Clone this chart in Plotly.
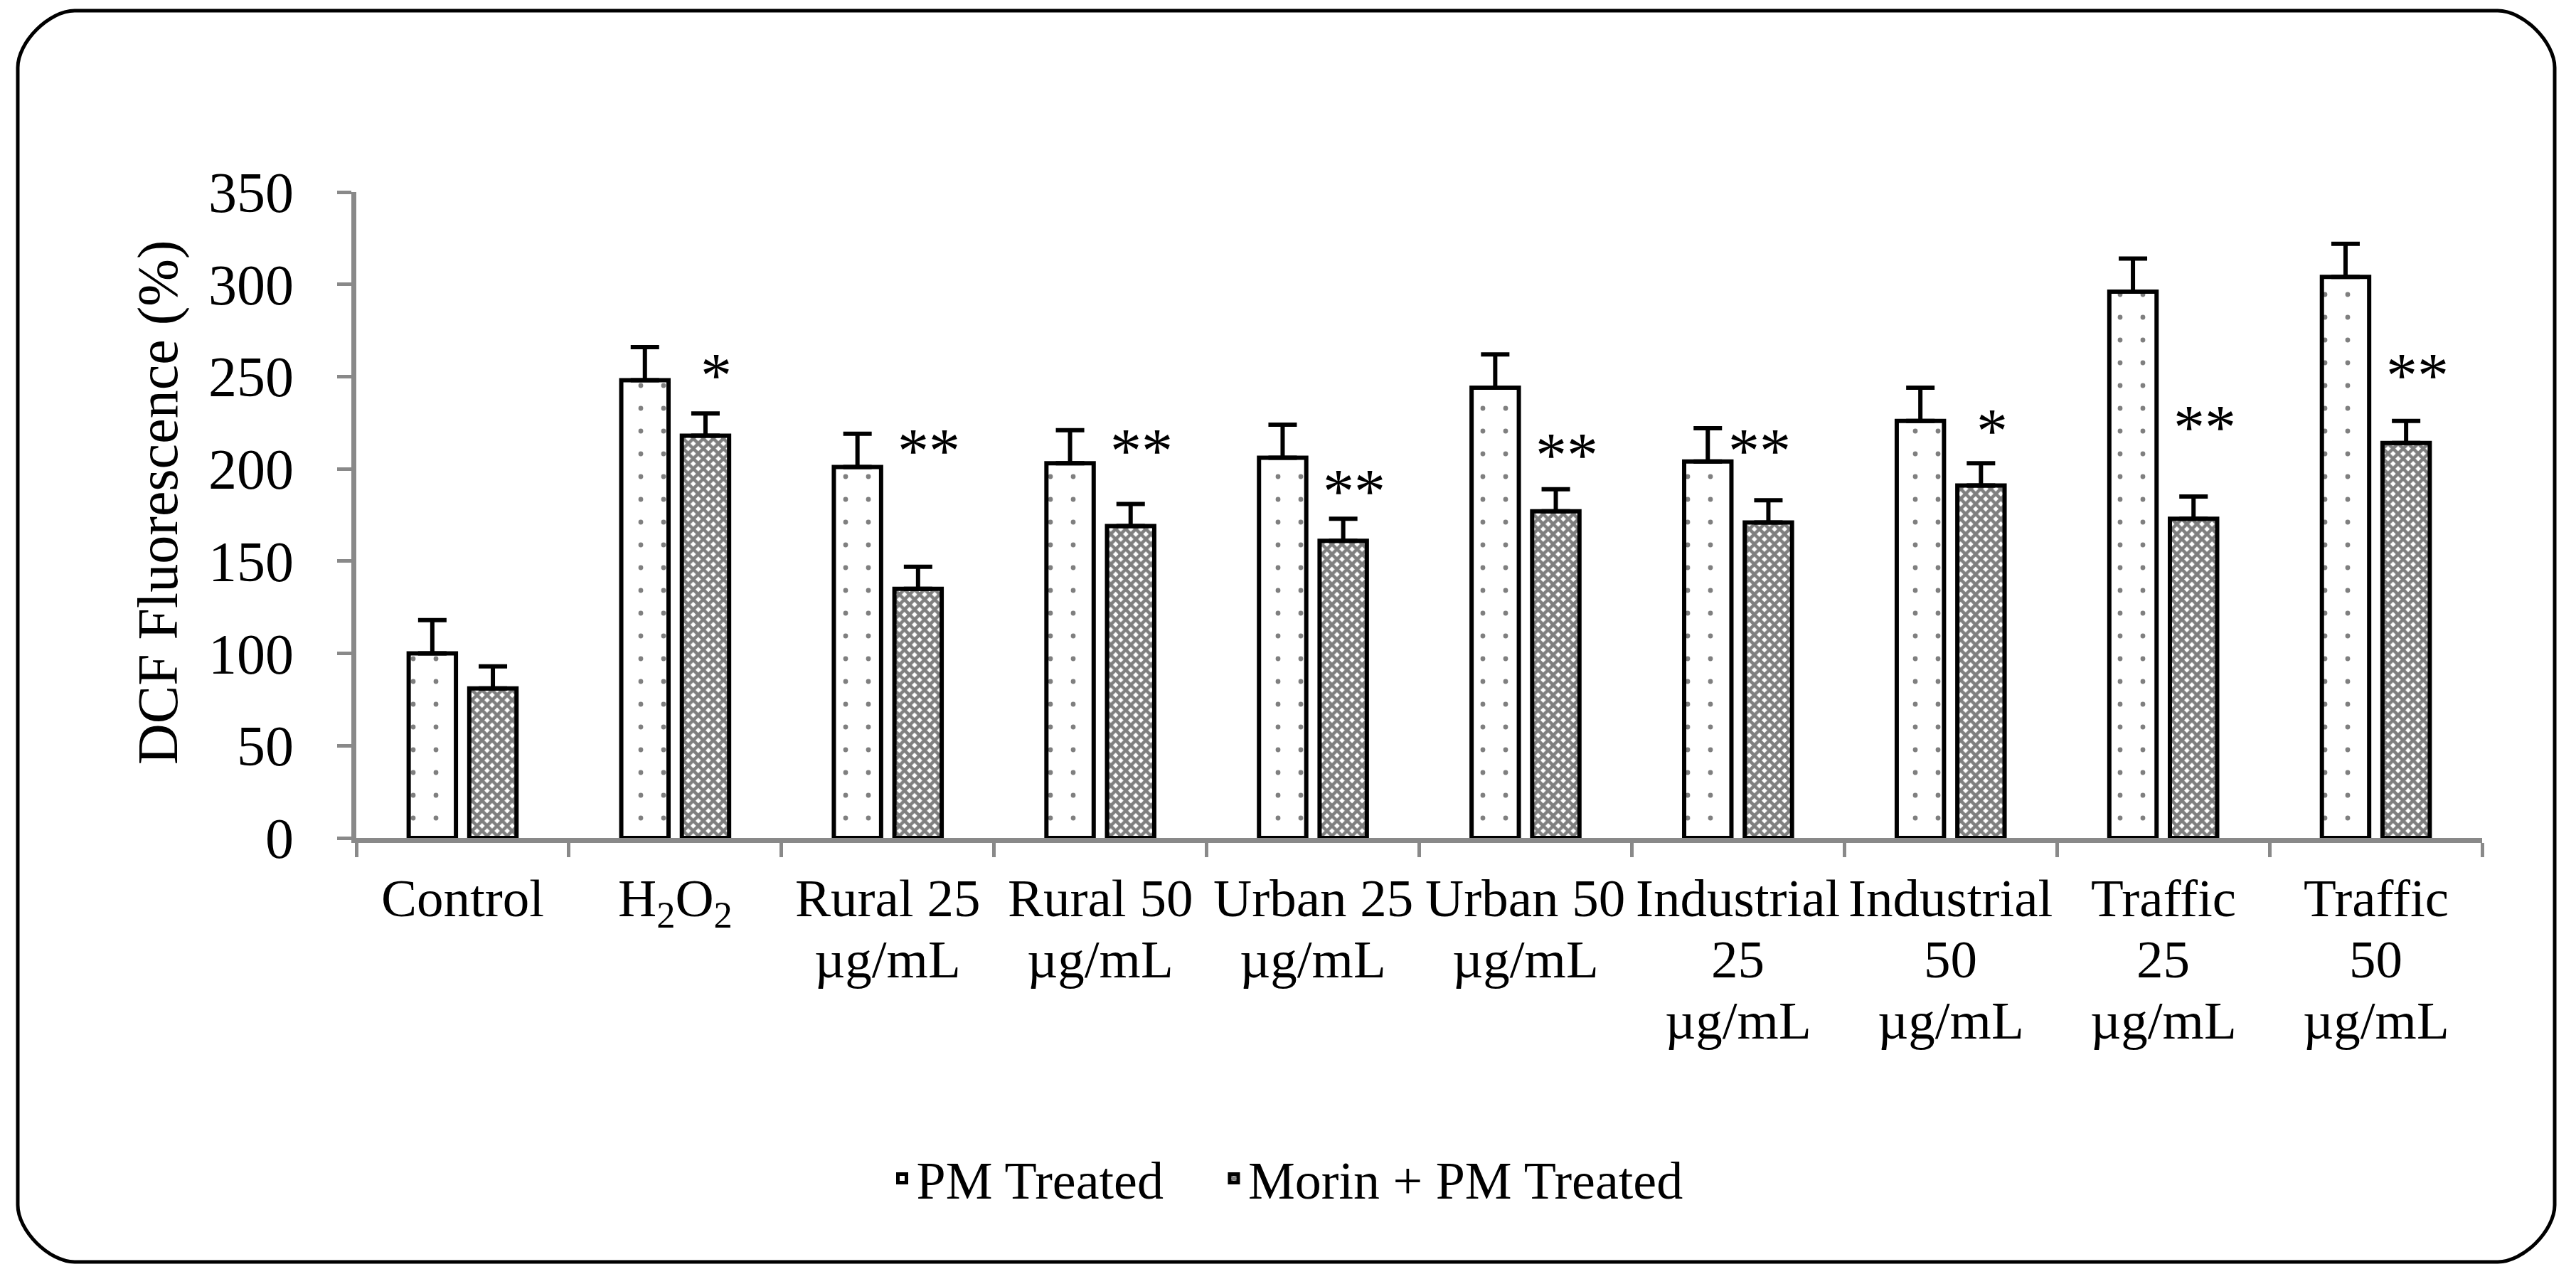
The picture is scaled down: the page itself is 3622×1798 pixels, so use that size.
#importing the necessary libraries
import plotly.graph_objects as go

# categories on the x axis (line breaks as in the original figure)
categories = [
    "Control",
    "H<sub>2</sub>O<sub>2</sub>",
    "Rural 25<br>µg/mL",
    "Rural 50<br>µg/mL",
    "Urban 25<br>µg/mL",
    "Urban 50<br>µg/mL",
    "Industrial<br>25<br>µg/mL",
    "Industrial<br>50<br>µg/mL",
    "Traffic<br>25<br>µg/mL",
    "Traffic<br>50<br>µg/mL",
]

# DCF fluorescence (%)
pm_treated = [100, 248, 201, 203, 206, 244, 204, 226, 296, 304]
pm_err = [18, 18, 18, 18, 18, 18, 18, 18, 18, 18]
morin_pm = [81, 218, 135, 169, 161, 177, 171, 191, 173, 214]
morin_err = [12, 12, 12, 12, 12, 12, 12, 12, 12, 12]

# significance marks and the height (in %) they are drawn at
stars = ["", "*", "**", "**", "**", "**", "**", "*", "**", "**"]
star_y = [None, 255, 214, 214, 192, 212, 214, 225, 227, 255]

# figure geometry (pixels)
W, H = 3622, 1798
L, R, T, B = 501, 132, 270, 620
PW, PH = W - L - R, H - T - B

def px_x(x):
    return (x - L) / PW

def px_y(y):
    return (H - B - y) / PH

FONT = "Liberation Serif"
AXIS_GREY = "#898989"

fig = go.Figure()

fig.add_trace(go.Bar(
    x=categories, y=pm_treated, name="PM Treated\u00a0\u00a0\u00a0\u00a0",
    marker=dict(color="white", line=dict(color="black", width=6),
                pattern=dict(shape=".", size=32, solidity=0.035,
                             fgcolor="black", bgcolor="white")),
    error_y=dict(type="data", array=pm_err, arrayminus=[0] * len(pm_err),
                 symmetric=False, color="black", thickness=6, width=20),
))
fig.add_trace(go.Bar(
    x=categories, y=morin_pm, name="Morin + PM Treated",
    marker=dict(color="white", line=dict(color="black", width=6),
                pattern=dict(shape="x", size=10, solidity=0.7,
                             fgcolor="black", bgcolor="white")),
    error_y=dict(type="data", array=morin_err, arrayminus=[0] * len(morin_err),
                 symmetric=False, color="black", thickness=6, width=20),
))

annotations = []

# category labels, one annotation per line to get the tight line spacing
for cat in categories:
    for i, line in enumerate(cat.split("<br>")):
        top = 1287 + 86 * i - 68
        annotations.append(dict(
            x=cat, xref="x", y=px_y(top), yref="paper",
            text=line, showarrow=False, xanchor="center", yanchor="top",
            font=dict(family=FONT, size=75, color="black"),
        ))

# significance stars over the Morin bars
star_dx = {6: 30}
for i, (s, sy) in enumerate(zip(stars, star_y)):
    if not s:
        continue
    annotations.append(dict(
        x=categories[i], y=sy, xref="x", yref="y", text=s, showarrow=False,
        xanchor="center", yanchor="middle", xshift=star_dx.get(i, 58), yshift=-11,
        font=dict(family=FONT, size=88, color="black"),
    ))

# y axis title
annotations.append(dict(
    x=px_x(222), y=px_y(706), xref="paper", yref="paper",
    text="DCF Fluorescence (%)", textangle=-90, showarrow=False,
    xanchor="center", yanchor="middle",
    font=dict(family=FONT, size=80, color="black"),
))

# rounded frame round the whole picture
x0, y0, x1, y1, r = 25, 15, 3592, 1774, 80
k = 0.45 * r
pts = [
    ("M", [(x0 + r, y0)]),
    ("L", [(x1 - r, y0)]),
    ("C", [(x1 - r + k, y0), (x1, y0 + r - k), (x1, y0 + r)]),
    ("L", [(x1, y1 - r)]),
    ("C", [(x1, y1 - r + k), (x1 - r + k, y1), (x1 - r, y1)]),
    ("L", [(x0 + r, y1)]),
    ("C", [(x0 + r - k, y1), (x0, y1 - r + k), (x0, y1 - r)]),
    ("L", [(x0, y0 + r)]),
    ("C", [(x0, y0 + r - k), (x0 + r - k, y0), (x0 + r, y0)]),
]
path = ""
for cmd, ps in pts:
    path += cmd + " ".join(f"{px_x(a):.5f},{px_y(b):.5f}" for a, b in ps) + " "
path += "Z"

fig.update_layout(
    width=W, height=H,
    margin=dict(l=L, r=R, t=T, b=B, pad=0),
    paper_bgcolor="white", plot_bgcolor="white",
    font=dict(family=FONT, color="black"),
    barmode="group", bargap=0.43, bargroupgap=0.22,
    showlegend=True,
    legend=dict(orientation="h", x=px_x(1810), xanchor="center",
                y=px_y(1657), yanchor="middle",
                font=dict(family=FONT, size=74, color="black"),
                bgcolor="rgba(0,0,0,0)"),
    annotations=annotations,
    shapes=[dict(type="path", path=path, xref="paper", yref="paper",
                 line=dict(color="black", width=5), layer="above")],
)

fig.update_xaxes(
    type="category", showline=True, linecolor=AXIS_GREY, linewidth=7,
    ticks="outside", tickson="boundaries", ticklen=20, tickwidth=5,
    tickcolor=AXIS_GREY, showticklabels=False, showgrid=False, zeroline=False,
)
fig.update_yaxes(
    range=[0, 350], dtick=50, showline=True, linecolor=AXIS_GREY, linewidth=7,
    ticks="outside", ticklen=20, tickwidth=5, tickcolor=AXIS_GREY,
    tickfont=dict(family=FONT, size=80, color="black"), ticklabelstandoff=45,
    showgrid=False, zeroline=False,
)

fig.write_html("out.html", config={"displayModeBar": False},
               post_script="document.body.style.margin='0';document.body.style.overflow='hidden';")
